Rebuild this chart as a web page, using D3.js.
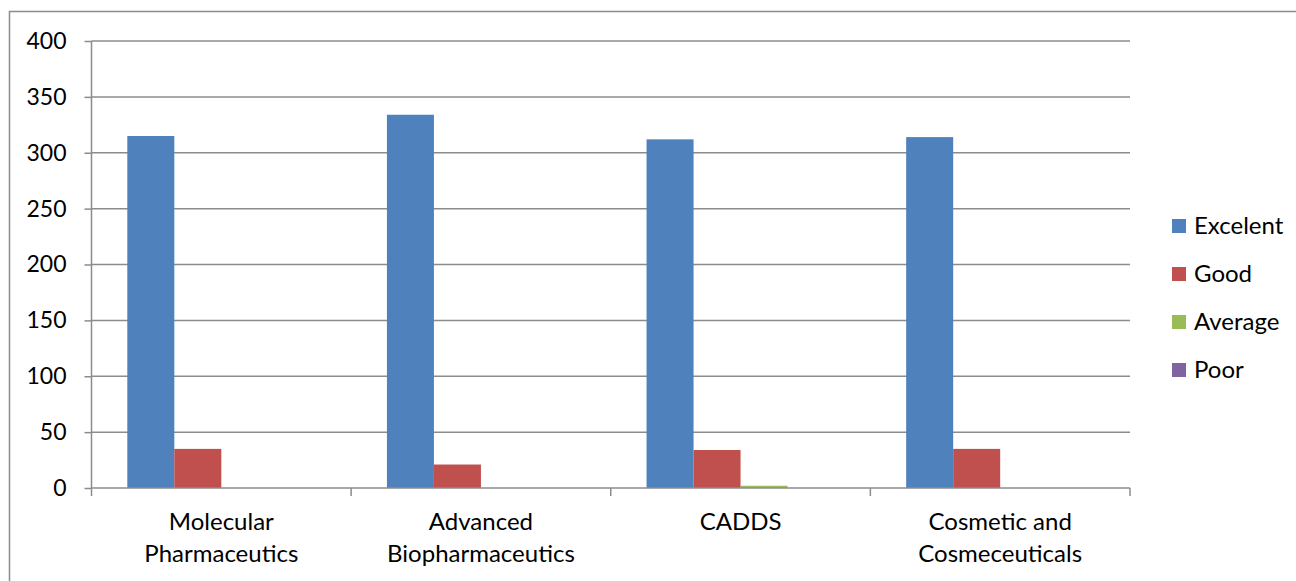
<!DOCTYPE html>
<html><head><meta charset="utf-8">
<script src="https://cdn.jsdelivr.net/npm/d3@7"></script>
<style>body{margin:0;background:#fff}svg{display:block}text{font-family:Lato,"Open Sans",sans-serif;fill:#000}</style>
</head><body><svg id="c" width="1296" height="581"></svg>
<script>
const categories = [["Molecular","Pharmaceutics"],["Advanced","Biopharmaceutics"],["CADDS"],["Cosmetic and","Cosmeceuticals"]];
const seriesNames = ["Excelent","Good","Average","Poor"];
const excelent = [315, 334, 312, 314];
const good = [35, 21, 34, 35];
const average = [0, 0, 2, 0];
const poor = [0, 0, 0, 0];
const yTicks = [0,50,100,150,200,250,300,350,400];
const colors = ["#4f81bd","#c0504d","#9bbb59","#8064a2"];

const series = [excelent, good, average, poor];
const svg = d3.select("#c");
const L = 91.5, R = 1130, T = 41, B = 488;

svg.append("rect").attr("x",9.5).attr("y",11.5).attr("width",1400).attr("height",700)
  .attr("fill","none").attr("stroke","#8c8c8c").attr("stroke-width",1.5);

const y = d3.scaleLinear().domain([0,400]).range([B,T]);
const x0 = d3.scaleBand().domain(d3.range(categories.length)).range([L,R]).paddingInner(0.2758).paddingOuter(0.1379);
const x1 = d3.scaleBand().domain(d3.range(series.length)).range([0,x0.bandwidth()]);

// gridlines
svg.append("g").selectAll("line").data(yTicks.filter(d=>d>0)).join("line")
  .attr("x1",L).attr("x2",R).attr("y1",d=>y(d)).attr("y2",d=>y(d))
  .attr("stroke","#8c8c8c").attr("stroke-width",1.5);

// bars
const g = svg.append("g");
series.forEach((vals,si)=>{
  g.selectAll(null).data(vals).join("rect")
    .attr("x",(d,i)=>x0(i)+x1(si)).attr("width",x1.bandwidth())
    .attr("y",d=>y(d)).attr("height",d=>B-y(d))
    .attr("fill",colors[si]);
});

// y axis
const ya = svg.append("g").attr("transform",`translate(${L},0)`)
  .call(d3.axisLeft(y).tickValues(yTicks).tickSize(7).tickPadding(18).tickFormat(d3.format("d")));
ya.select(".domain").attr("stroke","#8c8c8c").attr("stroke-width",1.5).attr("d",`M0,${B}V${T}`);
ya.selectAll(".tick line").attr("stroke","#8c8c8c").attr("stroke-width",1.5);
ya.selectAll(".tick text").attr("font-size",23).attr("font-family","Lato").attr("fill","#000");

// x axis
svg.append("line").attr("x1",L).attr("x2",R).attr("y1",B).attr("y2",B).attr("stroke","#8c8c8c").attr("stroke-width",1.5);
const step = (R-L)/categories.length;
svg.append("g").selectAll("line").data(d3.range(categories.length+1)).join("line")
  .attr("x1",i=>L+i*step).attr("x2",i=>L+i*step).attr("y1",B).attr("y2",B+8)
  .attr("stroke","#8c8c8c").attr("stroke-width",1.5);
const lab = svg.append("g").selectAll("text").data(categories).join("text")
  .attr("text-anchor","middle").attr("font-size",24)
  .attr("x",(d,i)=>x0(i)+x0.bandwidth()/2).attr("y",530);
lab.selectAll("tspan").data(d=>d).join("tspan")
  .attr("x",function(){return this.parentNode.getAttribute("x");})
  .attr("dy",(d,i)=>i===0?0:32).text(d=>d);

// legend
const lg = svg.append("g").selectAll("g").data(seriesNames).join("g")
  .attr("transform",(d,i)=>`translate(1172,${226+i*48})`);
lg.append("rect").attr("x",0).attr("y",-7).attr("width",14).attr("height",14).attr("fill",(d,i)=>colors[i]);
lg.append("text").attr("x",22).attr("y",8).attr("font-size",24).text(d=>d);
</script></body></html>
